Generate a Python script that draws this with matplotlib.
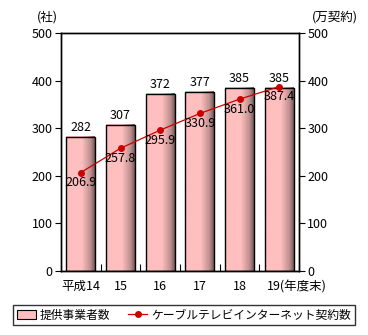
import matplotlib.pyplot as plt
import numpy as np
from matplotlib.colors import LinearSegmentedColormap
from matplotlib.lines import Line2D
from matplotlib.patches import Patch

plt.rcParams["font.family"] = ["Noto Sans CJK JP", "DejaVu Sans"]
plt.rcParams["font.size"] = 8

years = ["平成14", "15", "16", "17", "18", "19"]
providers = [282, 307, 372, 377, 385, 385]
subscribers = [206.9, 257.8, 295.9, 330.9, 361.0, 387.4]

BAR_PINK = "#ffbfbf"
LINE_RED = "#cc0000"

fig = plt.figure(figsize=(3.68, 3.35), dpi=100)
ax = fig.add_axes([61 / 368, 1 - 271 / 335, 238 / 368, 238 / 335])
ax2 = ax.twinx()

x = np.arange(len(years))
width = 0.73

# pink bars with a darker band fading in along the right edge
shade = LinearSegmentedColormap.from_list(
    "shade", [(0.0, BAR_PINK), (0.55, BAR_PINK), (0.85, "#c09090"), (1.0, "#7a5a5a")]
)
grad = np.linspace(0, 1, 64).reshape(1, -1)
for xi, v in zip(x, providers):
    ax.imshow(grad, cmap=shade, aspect="auto", interpolation="bilinear",
              extent=[xi - width / 2, xi + width / 2, 0, v], zorder=2)
    ax.bar(xi, v, width=width, facecolor="none", edgecolor="black",
           linewidth=1.0, zorder=3)
    ax.text(xi, v + 6, f"{v}", ha="center", va="bottom", fontsize=9, zorder=5)

ax.set_xlim(-0.5, len(years) - 0.5)
ax.set_ylim(0, 500)
ax.set_yticks(range(0, 501, 100))
ax.tick_params(axis="y", direction="out", length=4, labelsize=9, pad=2)
ax.set_xticks(x[:-1] + 0.5)
ax.set_xticklabels([])
ax.tick_params(axis="x", direction="in", length=5)
for xi, lab in zip(x, years):
    if xi == len(years) - 1:
        ax.text(xi - 0.3, -19, lab + "(年度末)", ha="left", va="top",
                fontsize=9)
    else:
        ax.text(xi, -19, lab, ha="center", va="top", fontsize=9)

ax2.plot(x, subscribers, color=LINE_RED, linewidth=0.9, marker="o",
         markersize=4, zorder=6)
for xi, v in zip(x, subscribers):
    ax2.text(xi, v - 8, f"{v:.1f}", ha="center", va="top", fontsize=9,
             zorder=7)
ax2.set_ylim(0, 500)
ax2.set_yticks(range(0, 501, 100))
ax2.tick_params(axis="y", direction="out", length=4, labelsize=9, pad=2)

for a in (ax, ax2):
    for s in a.spines.values():
        s.set_linewidth(1.0)

fig.text(47 / 368, 1 - 17 / 335, "(社)", ha="center", va="center", fontsize=9)
fig.text(335 / 368, 1 - 17 / 335, "(万契約)", ha="center", va="center",
         fontsize=9)

handles = [
    Patch(facecolor=BAR_PINK, edgecolor="black", linewidth=0.8),
    Line2D([0], [0], color=LINE_RED, marker="o", markersize=4, linewidth=0.9),
]
leg = fig.legend(handles, ["提供事業者数", "ケーブルテレビインターネット契約数"],
                 loc="center", bbox_to_anchor=(184 / 368, 1 - 315 / 335),
                 ncol=2, fontsize=8.5, frameon=True, fancybox=False,
                 edgecolor="black", handlelength=1.6, handletextpad=0.35,
                 columnspacing=1.5, borderpad=0.3, borderaxespad=0)
leg.get_frame().set_linewidth(1.0)

fig.savefig("out.png", dpi=100)
